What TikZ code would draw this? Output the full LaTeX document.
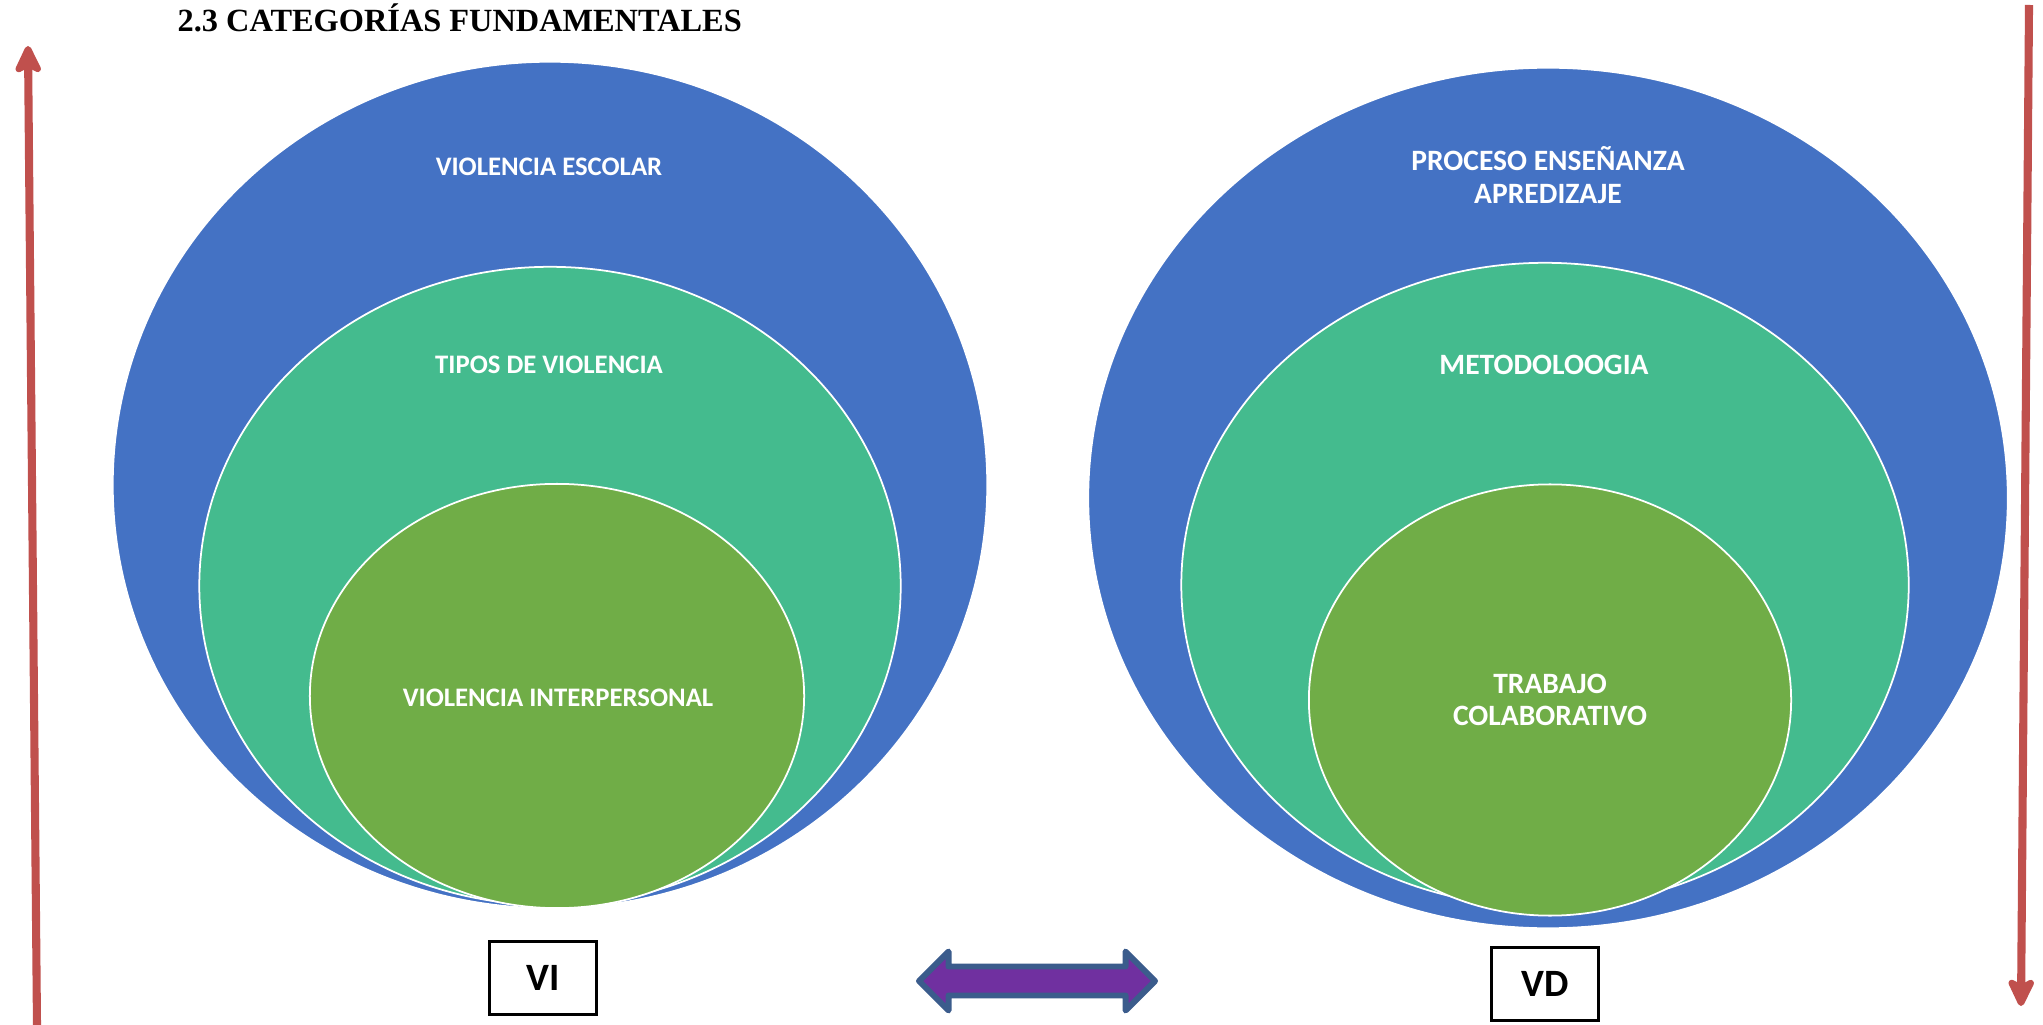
\documentclass[tikz,border=0pt]{standalone}
\usepackage{fontspec}
\setmainfont{Liberation Serif}
\newfontfamily\calibri{Carlito}
\usetikzlibrary{shapes.geometric,arrows.meta}
\definecolor{azul}{RGB}{68,114,196}
\definecolor{verdeagua}{RGB}{68,187,142}
\definecolor{verde}{RGB}{112,173,71}
\definecolor{rojo}{RGB}{192,80,77}
\definecolor{morado}{RGB}{112,48,160}
\definecolor{bordeazul}{RGB}{59,92,140}
\tikzset{
  elipse/.style={ellipse, draw=white, line width=0.5pt, inner sep=0pt},
  etiqueta/.style={text=white, align=center, inner sep=0pt,
    font=\calibri\bfseries\fontsize{7.6}{9.3}\selectfont},
  etiquetad/.style={etiqueta, font=\calibri\bfseries\fontsize{8.4}{9.3}\selectfont},
  cajavar/.style={draw=black, line width=0.8pt, inner sep=0pt,
    minimum width=1.07cm, minimum height=0.73cm,
    font=\calibri\bfseries\fontsize{11}{13}\selectfont},
  flecha/.style={rojo, line width=2.3pt,
    -{Stealth[length=0.34cm, width=0.32cm, inset=0.08cm, round]}},
  doble/.style={fill=morado, draw=bordeazul, line width=1.7pt, line join=round}
}
\begin{document}
\begin{tikzpicture}[x=0.01cm, y=-0.01cm]
  \useasboundingbox (0,0) rectangle (2043,1025);
  \node[anchor=base west, inner sep=0pt, font=\bfseries\fontsize{9.2}{11}\selectfont]
    (titulo) at (177,32) {2.3 CATEGORÍAS FUNDAMENTALES};
  % VI
  \node[elipse, fill=azul, minimum width=8.74cm, minimum height=8.46cm] (vesc) at (550,485) {};
  \node[elipse, fill=verdeagua, minimum width=7.01cm, minimum height=6.38cm] (tipos) at (550,586) {};
  \node[elipse, fill=verde, minimum width=4.94cm, minimum height=4.24cm] (vinter) at (557,696) {};
  \node[etiqueta] (tvesc) at (549,167) {VIOLENCIA ESCOLAR};
  \node[etiqueta] (ttipos) at (549,365) {TIPOS DE VIOLENCIA};
  \node[etiqueta] (tvinter) at (558,698) {VIOLENCIA INTERPERSONAL};
  % VD
  \node[elipse, fill=azul, minimum width=9.19cm, minimum height=8.6cm] (proceso) at (1548,498) {};
  \node[elipse, fill=verdeagua, minimum width=7.27cm, minimum height=6.44cm] (metod) at (1545,585) {};
  \node[elipse, fill=verde, minimum width=4.82cm, minimum height=4.31cm] (trabajo) at (1550,700) {};
  \node[etiquetad] (tproceso) at (1548,175) {PROCESO ENSEÑANZA\\APREDIZAJE};
  \node[etiquetad] (tmetod) at (1544,365) {METODOLOOGIA};
  \node[etiquetad] (ttrabajo) at (1550,700) {TRABAJO\\COLABORATIVO};
  % variables
  \node[cajavar] (vi) at (543,978) {VI};
  \node[cajavar] (vd) at (1545,984) {VD};
  \coordinate (rel) at (1037,981);
  \draw[doble] (rel) ++(-118,0) -- ++(29.5,-29.5) -- ++(0,15) -- ++(177,0) -- ++(0,-15)
    -- ++(29.5,29.5) -- ++(-29.5,29.5) -- ++(0,-15) -- ++(-177,0) -- ++(0,15) -- cycle;
  % flechas laterales
  \coordinate (izqa) at (37,1025);
  \coordinate (izqb) at (28,46);
  \coordinate (dera) at (2029,5);
  \coordinate (derb) at (2021,1006);
  \draw[flecha] (izqa) -- (izqb);
  \draw[flecha] (dera) -- (derb);
\end{tikzpicture}
\end{document}
